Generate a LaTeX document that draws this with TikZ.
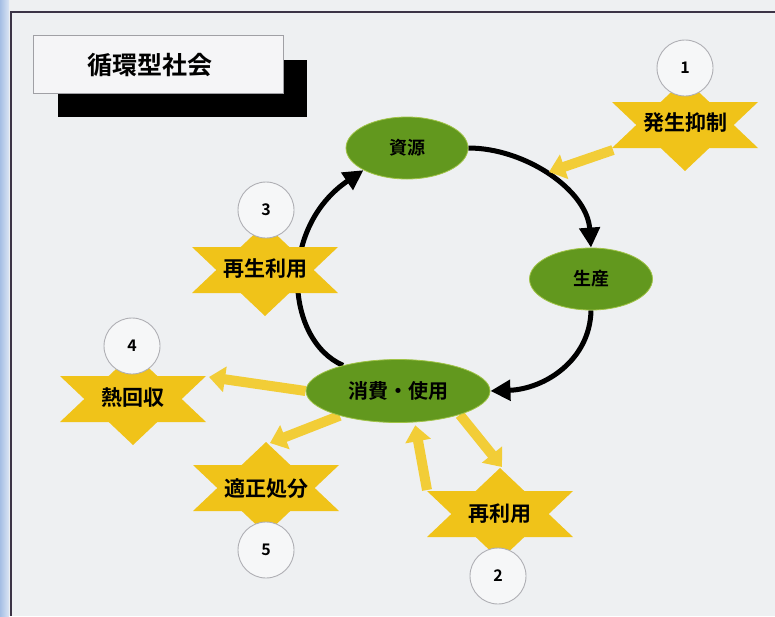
\documentclass[tikz,border=0pt]{standalone}
\usepackage{fontspec}
\newfontfamily\jp{Noto Sans CJK JP}[BoldFont={Noto Sans CJK JP Bold}]
\usetikzlibrary{shapes.geometric,arrows.meta}
\pgfdeclarelayer{bg}\pgfdeclarelayer{mid}\pgfsetlayers{bg,mid,main}
\definecolor{bgc}{RGB}{238,240,242}
\definecolor{leaf}{RGB}{98,152,30}
\definecolor{leafedge}{RGB}{160,195,70}
\definecolor{stary}{RGB}{240,195,25}
\definecolor{arry}{RGB}{242,205,55}
\definecolor{framec}{RGB}{60,52,70}
\definecolor{circline}{RGB}{175,175,180}
\definecolor{circfill}{RGB}{246,247,248}
\definecolor{stripb}{RGB}{165,190,228}
\definecolor{boxfill}{RGB}{245,245,247}
\definecolor{boxline}{RGB}{160,160,165}
\tikzset{
 leafnode/.style={ellipse, fill=leaf, draw=leafedge, line width=0.8pt, inner sep=0pt, font=\jp\bfseries\fontsize{18}{18}\selectfont, text=black},
 startext/.style={font=\jp\bfseries\fontsize{21}{21}\selectfont, text=black, inner sep=0pt},
 numcirc/.style={circle, minimum size=56pt, inner sep=0pt, fill=circfill, draw=circline, line width=0.9pt, font=\jp\bfseries\fontsize{16}{16}\selectfont},
 cyclearrow/.style={line width=5pt, -{Triangle[width=20pt,length=20pt]}},
 yarrow/.style={line width=10pt, draw=arry, -{Triangle[width=25pt,length=16pt]}},
 titlebox/.style={fill=boxfill, draw=boxline, line width=0.8pt},
 hexstar/.pic={\fill[stary] (0,-46) -- (24.3,-23) -- (73,-23) -- (48.7,0) -- (73,23) -- (24.3,23) -- (0,46) -- (-24.3,23) -- (-73,23) -- (-48.7,0) -- (-73,-23) -- (-24.3,-23) -- cycle;}
}
\begin{document}
\begin{tikzpicture}[x=1pt,y=-1pt]
\useasboundingbox (0,0) rectangle (775,616);
\begin{pgfonlayer}{bg}
\fill[bgc] (0,0) rectangle (775,616);
\shade[left color=stripb, right color=stripb!40!white] (0,0) rectangle (9,616);
\draw[framec, line width=2.2pt] (11,616) -- (11,12) -- (775,12);
\end{pgfonlayer}

% title
\fill[black] (58,60) rectangle (307,117);
\draw[titlebox] (33,35) rectangle (283,93);
\node[font=\jp\bfseries\fontsize{25}{25}\selectfont] (title) at (150,65) {循環型社会};

% ellipses
\node[leafnode, minimum width=122pt, minimum height=62pt] (shigen) at (407,148) {資源};
\node[leafnode, minimum width=123pt, minimum height=62pt] (seisan) at (591,279) {生産};
\node[leafnode, minimum width=184pt, minimum height=63pt, font=\jp\bfseries\fontsize{20}{20}\selectfont] (shohi) at (398,391) {消費・使用};

% stars
\pic at (685,125) {hexstar}; \node[startext] (s1) at (685,123) {発生抑制};
\pic at (500,514) {hexstar}; \node[startext] (s2) at (500,514) {再利用};
\pic at (265,270) {hexstar}; \node[startext] (s3) at (265,269) {再生利用};
\pic at (133,399) {hexstar}; \node[startext] (s4) at (133,398) {熱回収};
\pic at (266,488) {hexstar}; \node[startext] (s5) at (266,489) {適正処分};

% number circles
\node[numcirc] (n1) at (685,68) {1};
\node[numcirc] (n2) at (498,576) {2};
\node[numcirc] (n3) at (266,210) {3};
\node[numcirc] (n4) at (132,346) {4};
\node[numcirc] (n5) at (266,550) {5};

\coordinate (y1tip) at (549,172);
\begin{pgfonlayer}{mid}
\draw[cyclearrow] (shigen.east) .. controls (525,148) and (587,190) .. (seisan.north);
\draw[cyclearrow] (seisan.south) .. controls (590,360) and (545,389) .. (shohi.east);
\draw[cyclearrow] (shohi.155) .. controls (285,340) and (278,228) .. (shigen.207);
\draw[yarrow] ([shift={(-72,27)}]s1.center) -- (y1tip);
\draw[yarrow] (shohi.west) -- ([shift={(76,-21)}]s4.center);
\draw[yarrow] (shohi.203) -- ([shift={(4,-46)}]s5.center);
\draw[yarrow] (shohi.-21) -- ([shift={(2,-47)}]s2.center);
\draw[yarrow, shorten >=3pt] ([shift={(-73,-24)}]s2.center) -- (shohi.-62);
\end{pgfonlayer}
\end{tikzpicture}
\end{document}
